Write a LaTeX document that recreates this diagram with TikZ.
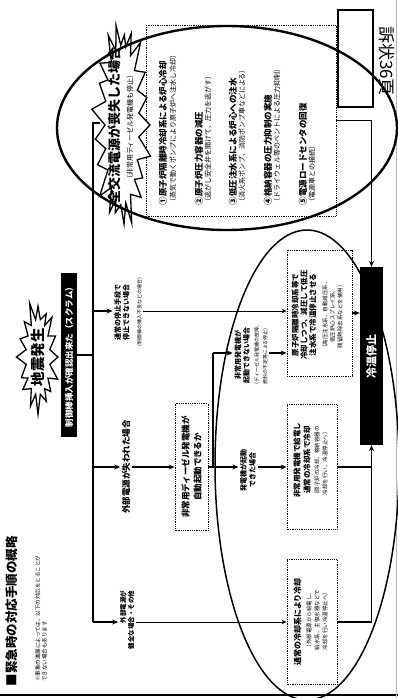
\documentclass[tikz,border=0pt]{standalone}
\usepackage{fontspec}
\setmainfont{Noto Sans CJK JP}
\usetikzlibrary{arrows.meta}
\begin{document}
\begin{tikzpicture}[x=1pt,y=-1pt,
  rt/.style={rotate=90, inner sep=1.5pt, align=center},
  dbox/.style={draw, densely dotted, line width=0.8pt, rotate=90, inner sep=0pt},
  blackbar/.style={rotate=90, fill=black, text=white, inner sep=0pt},
  thk/.style={line width=2.2pt},
  mid/.style={line width=1.6pt},
  arr/.style={-{Stealth[length=6pt,width=5pt]}, line width=1.8pt},
  tarr/.style={-{Stealth[length=5pt,width=4.5pt]}, line width=0.8pt},
  burst/.style={draw, line width=1.3pt, fill=white, line join=miter},
  ring/.style={line width=2.4pt},
  ringthin/.style={line width=1.5pt},
  hd/.style={font=\bfseries\fontsize{8.5}{10}\selectfont},
  sb/.style={font=\fontsize{7}{8}\selectfont},
  bt/.style={font=\bfseries\fontsize{7.5}{8.8}\selectfont},
  st/.style={font=\fontsize{5.5}{7.5}\selectfont},
]
\useasboundingbox (0,0) rectangle (398,698);
\fill[white] (0,0) rectangle (398,698);

% page edges of the scan
\draw[line width=1.6pt] (0,695) -- (398,695);
\draw[gray!55, line width=0.6pt] (396.5,0) -- (396.5,698);

% stamp
\node[draw, line width=1.2pt, minimum width=35pt, minimum height=97pt, inner sep=0pt] (stampbox) at (355.5,58.5) {};
\node[rotate=-90, inner sep=0pt, font=\fontsize{17}{18}\selectfont] (stamp) at (387,61) {訴状36頁};

% title and note
\node[rt, font=\bfseries\fontsize{12.5}{14}\selectfont] (title) at (12,611) {■緊急時の対応手順の概略};
\node[rotate=90, inner sep=0pt, anchor=north west, align=left, font=\fontsize{5.5}{6.8}\selectfont] (note) at (35,682)
  {※事象の進展によっては、以下の対応をとることが\\できない場合もあります};

% earthquake burst
\begin{scope}[shift={(38,357)}]
\draw[burst] (0:20 and 52) \foreach \i in {1,...,31}{
  -- ({\i*360/32}:{ifthenelse(mod(\i,2)==0,20+2*sin(\i*71),12)} and {ifthenelse(mod(\i,2)==0,52+6*sin(\i*53),38)}) } -- cycle;
\end{scope}
\node[rt, font=\bfseries\fontsize{14.5}{15}\selectfont] (quake) at (38,357) {地震発生};

% scram bar
\node[blackbar, minimum width=164pt, minimum height=16pt, font=\bfseries\fontsize{8.5}{9}\selectfont] (scram) at (69,355) {制御棒挿入が確認出来た（スクラム）};

% list box of measures
\node[dbox, minimum width=191pt, minimum height=190pt] (list) at (241,120.5) {};
\node[rt, anchor=west, hd] (i1h) at (163,207) {①原子炉隔離時冷却系による炉心冷却};
\node[rt, anchor=west, sb] (i1s) at (173,207) {（蒸気で動くポンプにより原子炉へ注水し冷却）};
\node[rt, anchor=west, hd] (i2h) at (199,207) {②原子炉圧力容器の減圧};
\node[rt, anchor=west, sb] (i2s) at (208,207) {（逃がし安全弁を開けて、圧力を逃がす）};
\node[rt, anchor=west, hd] (i3h) at (233,207) {③低圧注水系による炉心への注水};
\node[rt, anchor=west, sb] (i3s) at (242,207) {（消火系ポンプ、消防ポンプ車などによる）};
\node[rt, anchor=west, hd] (i4h) at (268,207) {④格納容器の圧力抑制の実施};
\node[rt, anchor=west, sb] (i4s) at (277,207) {（ドライウェル等のベントによる圧力抑制）};
\node[rt, anchor=west, hd] (i5h) at (303,207) {⑤電源ロードセンタの回復};
\node[rt, anchor=west, sb] (i5s) at (312,207) {（電源車との接続）};

% station blackout burst
\begin{scope}[shift={(122,125)}]
\draw[burst] (0:28 and 98) \foreach \i in {1,...,41}{
  -- ({\i*360/42}:{ifthenelse(mod(\i,2)==0,28+3*sin(\i*71),17)} and {ifthenelse(mod(\i,2)==0,98+8*sin(\i*53),80)}) } -- cycle;
\end{scope}
\node[rt, font=\bfseries\fontsize{13}{14}\selectfont] (sbo) at (114,125) {全交流電源が喪失した場合};
\node[rt, font=\fontsize{7}{8}\selectfont] (sbo2) at (130,127) {（非常用ディーゼル発電機も停止）};

% trunk
\coordinate (sbin) at (100,123);
\coordinate (jt) at (93,123);
\coordinate (j1) at (93,311);
\coordinate (j2) at (93,355);
\coordinate (j3) at (93,467);
\coordinate (j4) at (93,622);
\draw[thk] (sbin) -- (jt) -- (j4);
\draw[thk] (scram.south) -- (j2);

% branch a
\node[rt, font=\bfseries\fontsize{7}{8.5}\selectfont] (ta) at (128,312)
  {通常の停止手段で\\停止できない場合\\[4pt]{\mdseries\fontsize{5}{6}\selectfont（制御棒の挿入不良などの場合）}};
\draw[arr] (j1) -- (j1 -| ta.north);

% branch b
\node[rt, font=\bfseries\fontsize{8.5}{10}\selectfont] (tb) at (126,467) {外部電源が失われた場合};
\draw[arr] (j3) -- (j3 -| tb.north);
\node[dbox, minimum width=127pt, minimum height=33pt, align=center, font=\bfseries\fontsize{8.5}{12}\selectfont] (dsl) at (191.5,467)
  {非常用ディーゼル発電機が\\自動起動できるか};
\draw[arr] (tb.south |- j3) -- (dsl.north);

% branch from diesel box
\coordinate (k0) at (213,467);
\coordinate (k1) at (213,353);
\node[rt, font=\bfseries\fontsize{7}{8.5}\selectfont] (tc) at (251,355)
  {非常用発電機が\\起動できない場合\\[1pt]{\mdseries\fontsize{5}{7.5}\selectfont（ディーゼル発電機の故障、}\\{\mdseries\fontsize{5}{6}\selectfont 燃料の不足等による停止）}};
\node[rt, font=\bfseries\fontsize{7}{9}\selectfont] (td) at (248,470) {発電機が起動\\できた場合};
\draw[mid] (dsl.south) -- (k0) -- (k1);
\draw[arr] (k1) -- (k1 -| tc.north);
\draw[arr] (k0) -- (k0 -| td.north);

% branch d
\node[rt, align=right, font=\bfseries\fontsize{6.5}{8}\selectfont] (te) at (127,620) {外部電源が\\健全な場合・その他};
\draw[arr] (j4) -- (j4 -| te.north);

% right-hand boxes
\node[dbox, minimum width=126pt, minimum height=65pt] (boxd) at (319.5,313) {};
\node[rt, bt] (boxdt) at (304,315) {原子炉隔離時冷却系等で\\冷却しつつ、減圧して低圧\\注水系で冷温停止させる};
\node[rt, st] (boxds) at (332.5,315) {（高圧注水系、自動減圧系、\\低圧炉心スプレイ系、\\残留熱除去系などを使用）};

\node[dbox, minimum width=125pt, minimum height=50pt] (boxf) at (312,467) {};
\node[rt, font=\bfseries\fontsize{7.5}{10}\selectfont] (boxft) at (302,460) {非常用発電機で給電し\\通常の冷却系で冷却};
\node[rt, font=\fontsize{5.5}{8}\selectfont] (boxfs) at (321,462) {（原子炉の冷却、格納容器の\\冷却を行い、冷温停止へ）};

\node[dbox, minimum width=125pt, minimum height=50pt] (boxe) at (312,622) {};
\node[rt, font=\bfseries\fontsize{8}{9}\selectfont] (boxet) at (297.5,622) {通常の冷却系により冷却};
\node[rt, font=\fontsize{5.5}{8}\selectfont] (boxes) at (317,620) {（外部電源から給電し、\\給水系、主復水器などで\\冷却を行い冷温停止へ）};

% connectors into boxes
\draw[tarr] (ta.south |- j1) -- (j1 -| boxd.north);
\draw[arr] (tc.south |- k1) -- (k1 -| boxd.north);
\draw[arr] (td.south |- k0) -- (k0 -| boxf.north);
\draw[tarr] (te.south |- j4) -- (j4 -| boxe.north);

% cold shutdown bar
\node[blackbar, minimum width=178pt, minimum height=23pt, font=\bfseries\fontsize{11}{12}\selectfont] (cold) at (371.5,356) {冷温停止};
\coordinate (r4) at (371.5,622);
\draw[arr] (list.south) -| (cold.east);
\draw[arr] (boxd.south) -- (boxd.south -| cold.north);
\draw[mid] (boxe.south) -- (r4);
\draw[mid] (boxf.south) -- (boxf.south -| r4);
\draw[arr] (r4) -- (cold.west);

% marker ellipses
\draw[ring] (227,128) ellipse [x radius=170pt, y radius=102pt];
\draw[ringthin] (307,465) ellipse [x radius=92pt, y radius=235pt];
\end{tikzpicture}
\end{document}
